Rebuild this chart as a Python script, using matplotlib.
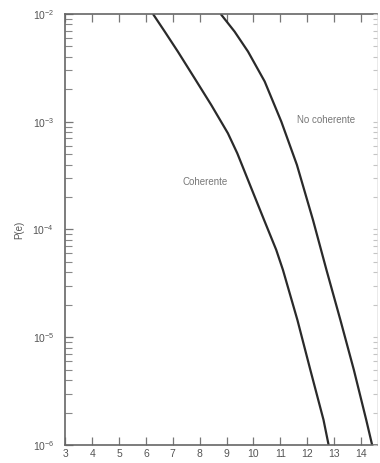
import matplotlib
matplotlib.use("Agg")
import matplotlib.pyplot as plt
from matplotlib.ticker import LogLocator, FixedLocator, NullFormatter

plt.rcParams['font.family'] = ['Liberation Sans', 'DejaVu Sans']
plt.rcParams['mathtext.default'] = 'regular'

# Eb/N0 (dB) and P(e)
coh_x = [6.26, 6.70, 7.19, 7.81, 8.43, 9.05, 9.40, 9.90, 10.40, 10.85, 11.10,
         11.64, 12.12, 12.61, 12.80]
coh_y = [1e-2, 6.85e-3, 4.46e-3, 2.53e-3, 1.43e-3, 7.81e-4, 5.09e-4, 2.49e-4,
         1.22e-4, 6.46e-5, 4.21e-5, 1.44e-5, 4.97e-6, 1.71e-6, 1.0e-6]

nc_x = [8.78, 9.30, 9.80, 10.42, 11.04, 11.62, 12.22, 12.72, 13.24, 13.74, 14.20, 14.42]
nc_y = [1e-2, 6.85e-3, 4.47e-3, 2.36e-3, 1.0e-3, 3.97e-4, 1.22e-4, 4.21e-5,
        1.44e-5, 4.97e-6, 1.71e-6, 1.0e-6]

x_ticks = [3, 4, 5, 6, 7, 8, 9, 10, 11, 12, 13, 14]
y_ticks = [1e-6, 1e-5, 1e-4, 1e-3, 1e-2]
y_tick_labels = ['$10^{-6}$', '$10^{-5}$', '$10^{-4}$', '$10^{-3}$', '$10^{-2}$']

labels = ['Coherente', 'No coherente']
label_pos = [(8.19, 2.76e-4), (12.72, 1.04e-3)]

fig = plt.figure(figsize=(3.8, 4.63), dpi=100)
ax = fig.add_axes([0.172, 0.039, 0.820, 0.931])

line_color = '#2a2a2a'
ax.plot(coh_x, coh_y, color=line_color, lw=1.6, solid_capstyle='butt',
        solid_joinstyle='round')
ax.plot(nc_x, nc_y, color=line_color, lw=1.6, solid_capstyle='butt',
        solid_joinstyle='round')

ax.set_yscale('log')
ax.set_xlim(3, 14.6)
ax.set_ylim(1e-6, 1e-2)

ax.xaxis.set_major_locator(FixedLocator(x_ticks))
ax.set_xticklabels([str(v) for v in x_ticks])
ax.yaxis.set_major_locator(FixedLocator(y_ticks))
ax.set_yticklabels(y_tick_labels)
ax.yaxis.set_minor_locator(LogLocator(base=10, subs=range(2, 10)))
ax.yaxis.set_minor_formatter(NullFormatter())

spine_col = '#666666'
for s in ['left', 'bottom', 'top']:
    ax.spines[s].set_color(spine_col)
    ax.spines[s].set_linewidth(1.2)
ax.spines['right'].set_color('#e6e6e6')
ax.spines['right'].set_linewidth(0.6)

ax.tick_params(axis='both', which='major', direction='in', length=6, width=0.9,
               color='#777777', labelsize=7.5, labelcolor='#555555',
               top=True, right=False)
ax.tick_params(axis='y', which='minor', direction='in', length=5, width=0.8,
               color='#888888', right=False)
ax.tick_params(axis='x', which='major', pad=3)
ax.tick_params(axis='y', which='major', pad=8)

# faint right-hand ticks
ax2 = ax.twinx()
ax2.set_yscale('log')
ax2.set_ylim(1e-6, 1e-2)
ax2.yaxis.set_major_locator(FixedLocator(y_ticks))
ax2.yaxis.set_minor_locator(LogLocator(base=10, subs=range(2, 10)))
ax2.yaxis.set_major_formatter(NullFormatter())
ax2.yaxis.set_minor_formatter(NullFormatter())
for s in ax2.spines.values():
    s.set_visible(False)
ax2.tick_params(axis='y', which='both', direction='in', length=3, width=0.8,
                color='#c4c4c4', right=True, labelright=False)

ax.set_ylabel('P(e)', fontsize=7, color='#555555', labelpad=6)

for txt, (tx, ty) in zip(labels, label_pos):
    ax.text(tx, ty, txt, fontsize=7, color='#777777', ha='center', va='center')

fig.savefig('out.png', dpi=100)
